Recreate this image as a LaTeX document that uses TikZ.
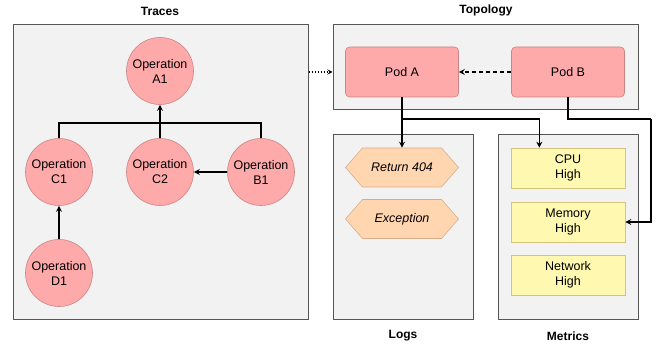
\documentclass[tikz,border=0pt]{standalone}
\usepackage{fontspec}
\setmainfont{Liberation Sans}
\usetikzlibrary{arrows.meta,shapes.symbols,calc}
\definecolor{panelfill}{HTML}{F2F2F2}
\definecolor{paneldraw}{HTML}{555555}
\definecolor{opfill}{HTML}{FFAAAA}
\definecolor{opdraw}{HTML}{C98585}
\definecolor{logfill}{HTML}{FFD6B0}
\definecolor{logdraw}{HTML}{D8AE8A}
\definecolor{metfill}{HTML}{FFF8B0}
\definecolor{metdraw}{HTML}{D4C57C}
\tikzset{
  txt/.style={font=\fontsize{12.5}{15}\selectfont, align=center},
  panel/.style={draw=paneldraw, fill=panelfill, line width=1pt, inner sep=0pt},
  paneltitle/.style={font=\fontsize{12}{14}\selectfont\bfseries},
  opnode/.style={txt, circle, draw=opdraw, fill=opfill, line width=0.6pt, minimum size=67pt, inner sep=0pt},
  podnode/.style={txt, rectangle, rounded corners=4pt, draw=opdraw, fill=opfill, line width=0.6pt, minimum width=113pt, minimum height=50pt},
  lognode/.style={txt, font=\fontsize{12.5}{15}\selectfont\itshape, signal, signal to=west and east, signal pointer angle=98, draw=logdraw, fill=logfill, line width=0.6pt, minimum width=113pt, minimum height=39pt, inner sep=0pt},
  metnode/.style={txt, rectangle, draw=metdraw, fill=metfill, line width=0.6pt, minimum width=114pt, minimum height=40pt},
  conn/.style={line width=1.3pt, black},
  arr/.style={conn, -{Stealth[length=6pt,width=6pt,inset=2pt]}},
}
\begin{document}
\begin{tikzpicture}[x=1pt,y=-1pt]
\useasboundingbox (0,0) rectangle (665,347);

% panels
\node[panel, minimum width=295pt, minimum height=295pt] (traces) at (160.5,172.5) {};
\node[panel, minimum width=305pt, minimum height=85pt] (topo) at (485.5,67.5) {};
\node[panel, minimum width=140pt, minimum height=185pt] (logs) at (403,227.5) {};
\node[panel, minimum width=140pt, minimum height=185pt] (metrics) at (568,227.5) {};

\node[paneltitle] (ttraces) at (160,11) {Traces};
\node[paneltitle] (ttopo) at (486,10) {Topology};
\node[paneltitle] (tlogs) at (403,336) {Logs};
\node[paneltitle] (tmetrics) at (568,336) {Metrics};

% trace operations
\node[opnode] (a1) at (160,71) {Operation\\A1};
\node[opnode] (c1) at (59,172) {Operation\\C1};
\node[opnode] (c2) at (160,172) {Operation\\C2};
\node[opnode] (b1) at (261,172) {Operation\\B1};
\node[opnode] (d1) at (59,273) {Operation\\D1};

% topology
\node[podnode] (poda) at (402,72) {Pod A};
\node[podnode] (podb) at (568,72) {Pod B};

% logs
\node[lognode] (ret) at (402,167.5) {Return 404};
\node[lognode] (exc) at (402,219) {Exception};

% metrics
\node[metnode] (cpu) at (568,168) {CPU\\High};
\node[metnode] (mem) at (568,222) {Memory\\High};
\node[metnode] (net) at (568,275) {Network\\High};

% trace connectors
\coordinate (tj) at (160,123);
\draw[conn] (c1.north) |- (tj);
\draw[conn] (b1.north) |- (tj);
\draw[arr] (c2.north) -- (a1.south);
\draw[arr] (b1.west) -- (c2.east);
\draw[arr] (d1.north) -- (c1.south);

% traces to topology
\draw[conn, dash pattern=on 1.3pt off 1.7pt, -{Stealth[length=5pt,width=5pt,inset=2pt]}] (traces.east |- poda) -- (topo.west |- poda);

% pod connectors
\draw[conn, dash pattern=on 4pt off 3pt, -{Stealth[length=6pt,width=6pt,inset=2pt]}] (podb.west) -- (poda.east);
\coordinate (cpuin) at ($(cpu.north west)!0.25!(cpu.north east)$);
\coordinate (pa) at (402,119);
\coordinate (pb) at (651,119);
\draw[arr] (poda.south) -- (ret.north);
\draw[arr] (pa) -| (cpuin);
\draw[conn] (podb.south) |- (pb);
\draw[arr] (pb) |- (mem.east);
\end{tikzpicture}
\end{document}
